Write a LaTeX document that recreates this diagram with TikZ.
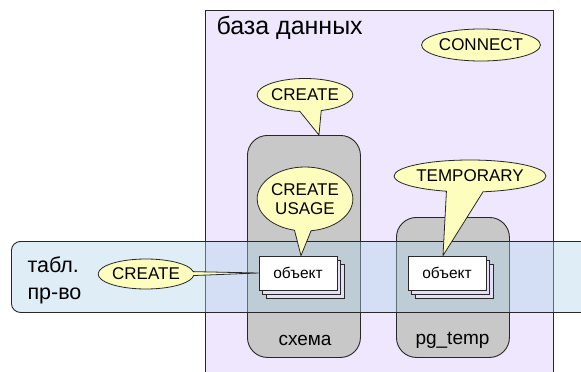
\documentclass[tikz,border=0pt]{standalone}
\usepackage{fontspec}
\setmainfont{Liberation Sans}
\usetikzlibrary{shapes.callouts,shapes.geometric,shadows}
\definecolor{dbfill}{RGB}{238,231,253}
\definecolor{schemafill}{RGB}{200,200,200}
\definecolor{bandfill}{RGB}{175,210,235}
\definecolor{callfill}{RGB}{253,253,190}
\definecolor{backfill}{RGB}{228,222,246}
\definecolor{edge}{RGB}{40,40,40}
\begin{document}
\begin{tikzpicture}[x=1pt,y=-1pt,
  db/.style={draw=edge,fill=dbfill,line width=0.9pt,inner sep=0pt},
  schemabox/.style={draw=edge,fill=schemafill,rounded corners=20pt,line width=0.9pt,inner sep=0pt},
  band/.style={draw=edge,fill=bandfill,fill opacity=0.4,rounded corners=9pt,line width=0.9pt,inner sep=0pt},
  bubble/.style={ellipse callout,draw=edge,fill=callfill,inner sep=0pt,font=\fontsize{17}{19.5}\selectfont,line width=0.8pt,align=center},
  plainbubble/.style={ellipse,draw=edge,fill=callfill,inner sep=0pt,font=\fontsize{17}{19.5}\selectfont,line width=0.8pt},
  obj/.style={draw=edge,fill=white,minimum width=78pt,minimum height=34pt,inner sep=0pt,font=\fontsize{15.5}{17}\selectfont,double copy shadow={shadow xshift=3.5pt,shadow yshift=-4pt,draw=edge,fill=backfill},line width=0.8pt},
  lbl/.style={font=\fontsize{19}{21}\selectfont,text=black}
]
\useasboundingbox (0,0) rectangle (581,372);
\clip (0,0) rectangle (581,372);
\fill[white] (0,0) rectangle (581,372);

\node[db,anchor=north west,minimum width=348pt,minimum height=380pt] (db) at (205,10) {};
\node[anchor=west,font=\fontsize{25}{27}\selectfont] (dblbl) at (213,28) {база данных};

\node[schemabox,anchor=north west,minimum width=113pt,minimum height=222pt] (schema) at (247,135) {};
\node[schemabox,anchor=north west,minimum width=113pt,minimum height=140pt] (pgtemp) at (396,217) {};
\node[lbl] (schemalbl) at (305,340) {схема};
\node[lbl] (pglbl) at (452.5,340) {pg\_temp};

\node[plainbubble,minimum width=110pt,minimum height=32pt] (connect) at (481,45) {CONNECT};
\coordinate (ctip) at ([xshift=15pt]schema.north);
\node[bubble,minimum width=92pt,minimum height=33pt,callout absolute pointer={(ctip)},callout pointer arc=26] (create1) at (305,95) {CREATE};

\node[band,anchor=north west,minimum width=600pt,minimum height=71pt] (band) at (11,241) {};
\node[anchor=west,align=left,font=\fontsize{21.5}{27}\selectfont] (bandlbl) at (24,280) {табл.\\пр-во};

\node[obj] (obj1) at (298,273) {объект};
\node[obj] (obj2) at (447,273) {объект};

\coordinate (utip) at ([xshift=3pt]obj1.north);
\coordinate (ttip) at ([xshift=-4pt]obj2.north);
\node[bubble,minimum width=92pt,minimum height=64pt,callout absolute pointer={(utip)},callout pointer arc=20] (usage) at (305,199) {CREATE\\USAGE};
\node[bubble,minimum width=134pt,minimum height=32pt,callout absolute pointer={(ttip)},callout pointer arc=28] (temp) at (470,176) {TEMPORARY};
\node[bubble,minimum width=92pt,minimum height=30pt,callout absolute pointer={(obj1.west)},callout pointer arc=15] (create2) at (146,274) {CREATE};
\end{tikzpicture}
\end{document}
